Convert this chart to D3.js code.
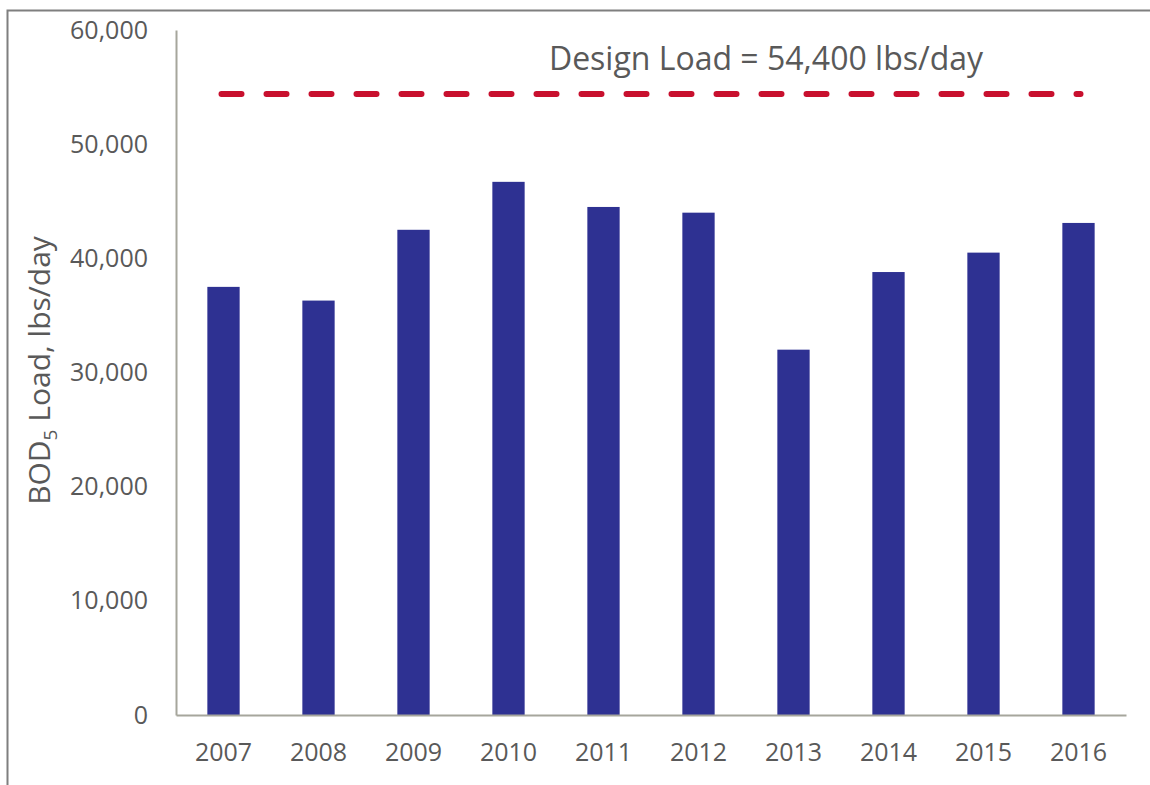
<!DOCTYPE html>
<html>
<head>
<meta charset="utf-8">
<script src="https://cdn.jsdelivr.net/npm/d3@7"></script>
<style>
  body { margin:0; background:#fff; }
  text { font-family: "Open Sans", "Noto Sans", sans-serif; fill:#595959; }
</style>
</head>
<body>
<svg id="chart"></svg>
<script>
var years = ["2007","2008","2009","2010","2011","2012","2013","2014","2015","2016"];
var bodLoad = [37500, 36300, 42500, 46700, 44500, 44000, 32000, 38800, 40500, 43100];
var designLoad = 54400;
var yTicks = [0, 10000, 20000, 30000, 40000, 50000, 60000];

var screen = {width:1150, height:785};
var margins = {top:30, bottom:70, left:176, right:24};
var graph = {
    width: screen.width - margins.left - margins.right,
    height: screen.height - margins.top - margins.bottom
};

var svg = d3.select("#chart")
    .attr("width", screen.width)
    .attr("height", screen.height);

// outer frame
svg.append("path")
    .attr("d", "M7.5,785 V10.5 H1150")
    .attr("fill", "none")
    .attr("stroke", "#7f7f7f")
    .attr("stroke-width", 2);

var xScale = d3.scaleBand()
    .domain(years)
    .range([0, graph.width])
    .paddingInner(0.66)
    .paddingOuter(0.33);

var yScale = d3.scaleLinear()
    .domain([0, 60000])
    .range([graph.height, 0]);

var g = svg.append("g")
    .attr("transform", "translate(" + margins.left + "," + margins.top + ")");

var data = years.map(function(y, i) { return {year:y, value:bodLoad[i]}; });

g.selectAll("rect")
    .data(data)
    .enter()
    .append("rect")
    .attr("x", function(d) { return xScale(d.year); })
    .attr("y", function(d) { return yScale(d.value); })
    .attr("width", xScale.bandwidth())
    .attr("height", function(d) { return graph.height - yScale(d.value); })
    .style("fill", "#2e3192");

// axes
var yAxis = d3.axisLeft(yScale)
    .tickValues(yTicks)
    .tickSize(0)
    .tickPadding(28)
    .tickFormat(d3.format(","));
var xAxis = d3.axisBottom(xScale)
    .tickSize(0)
    .tickPadding(28);

var ya = g.append("g").call(yAxis);
var xa = g.append("g")
    .attr("transform", "translate(0," + graph.height + ")")
    .call(xAxis);

[ya, xa].forEach(function(a) {
    a.select(".domain").attr("stroke", "#a6a69c").attr("stroke-width", 2);
    a.selectAll("text")
        .style("font-size", "25px")
        .style("font-family", "'Open Sans', 'Noto Sans', sans-serif")
        .attr("fill", "#595959");
});

// design load line
var first = xScale(years[0]) + xScale.bandwidth() / 2;
var last = xScale(years[years.length - 1]) + xScale.bandwidth() / 2;
g.append("line")
    .attr("x1", first - 2)
    .attr("x2", last + 2)
    .attr("y1", yScale(designLoad))
    .attr("y2", yScale(designLoad))
    .attr("stroke", "#c8102e")
    .attr("stroke-width", 6)
    .attr("stroke-linecap", "round")
    .attr("stroke-dasharray", "20,25");

g.append("text")
    .attr("x", (first + last) / 2 + 115)
    .attr("y", yScale(designLoad) - 24)
    .attr("text-anchor", "middle")
    .style("font-size", "32px")
    .text("Design Load = " + d3.format(",")(designLoad) + " lbs/day");

// y label
var lab = svg.append("text")
    .attr("transform", "translate(50," + (margins.top + graph.height / 2 - 2) + ") rotate(-90)")
    .attr("text-anchor", "middle")
    .style("font-size", "30px");
lab.append("tspan").text("BOD");
lab.append("tspan").text("5").attr("dy", 7).style("font-size", "19px");
lab.append("tspan").text(" Load, lbs/day").attr("dy", -7);
</script>
</body>
</html>
